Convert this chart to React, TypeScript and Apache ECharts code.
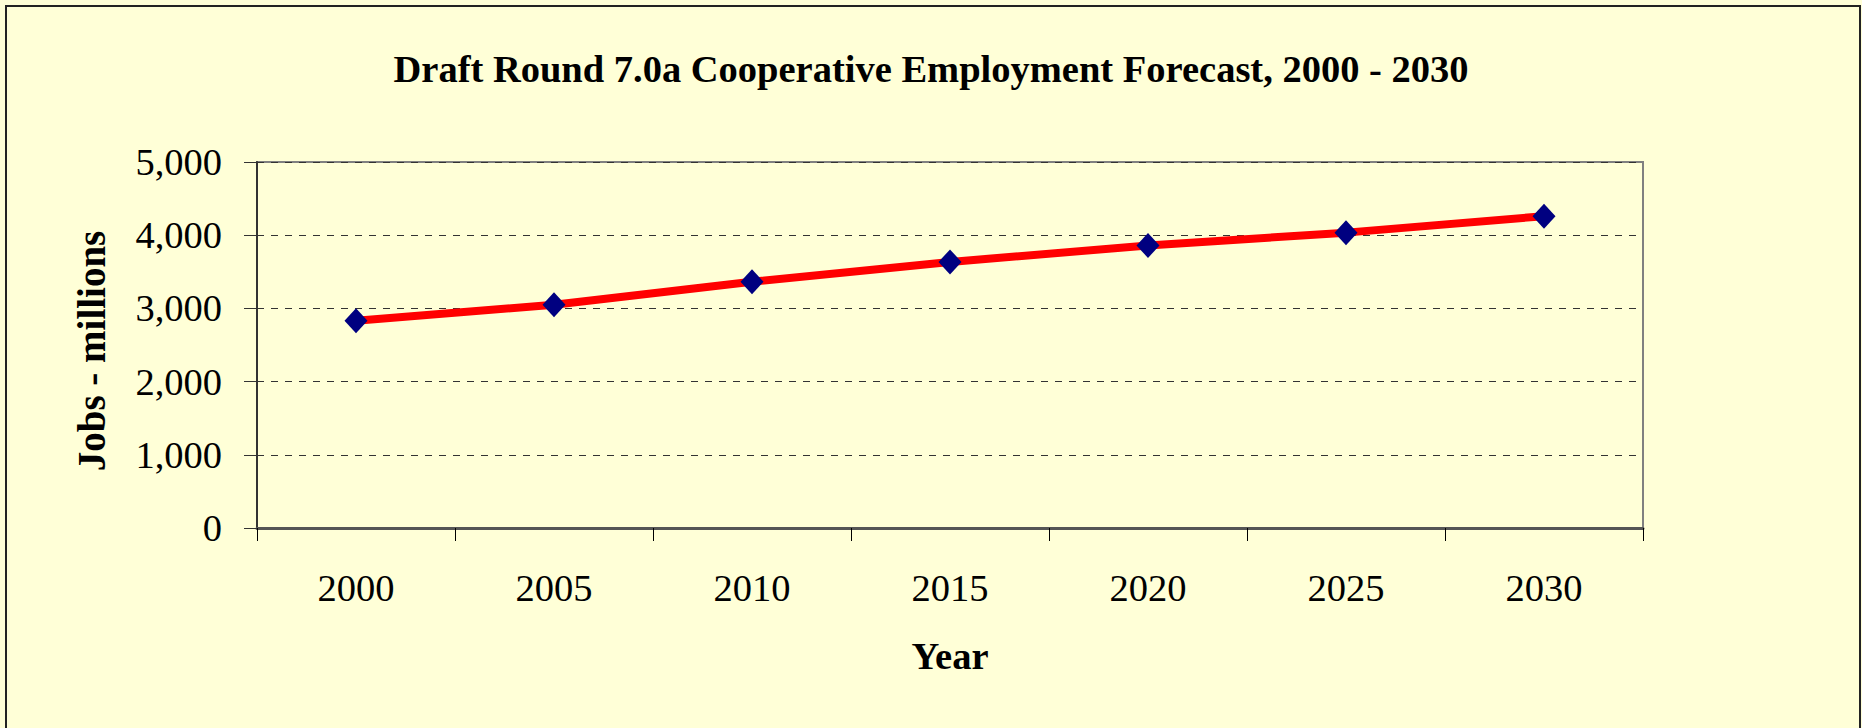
import React, { useEffect, useRef } from "react";
import * as echarts from "echarts";

const years = ["2000", "2005", "2010", "2015", "2020", "2025", "2030"];
const jobs = [2830, 3050, 3365, 3635, 3860, 4035, 4260];
const yTicks = [0, 1000, 2000, 3000, 4000, 5000];

const titleText = "Draft Round 7.0a Cooperative Employment Forecast, 2000 - 2030";
const yName = "Jobs - millions";
const xName = "Year";

const FONT = "'Liberation Serif', 'Times New Roman', serif";

export default function App() {
  const ref = useRef<HTMLDivElement>(null);
  useEffect(() => {
    if (!ref.current) return;
    const chart = echarts.init(ref.current, null, { renderer: "svg" });
    chart.setOption({
      animation: false,
      backgroundColor: "#FFFFD7",
      title: {
        text: titleText,
        left: "center",
        top: 44,
        textStyle: { fontFamily: FONT, fontSize: 38.5, fontWeight: "bold", color: "#000" },
      },
      graphic: [
        {
          type: "rect",
          shape: { x: 6, y: 6, width: 1854, height: 740 },
          style: { fill: "none", stroke: "#222", lineWidth: 2 },
          silent: true,
        },
      ],
      grid: { left: 257, right: 219, top: 162, bottom: 200, show: true, borderColor: "#808080", borderWidth: 2, backgroundColor: "transparent" },
      xAxis: {
        type: "category",
        data: years,
        boundaryGap: true,
        name: xName,
        nameLocation: "middle",
        nameGap: 108,
        nameTextStyle: { fontFamily: FONT, fontSize: 38.5, fontWeight: "bold", color: "#000" },
        axisLine: { lineStyle: { color: "#555", width: 3 } },
        axisTick: { show: true, length: 13, alignWithLabel: false, lineStyle: { color: "#000", width: 1 } },
        axisLabel: { fontFamily: FONT, fontSize: 38.5, color: "#000", margin: 40 },
        splitLine: { show: false },
      },
      yAxis: {
        type: "value",
        min: yTicks[0],
        max: yTicks[yTicks.length - 1],
        interval: 1000,
        name: yName,
        nameLocation: "middle",
        nameGap: 146,
        nameRotate: 90,
        nameTextStyle: { fontFamily: FONT, fontSize: 39, fontWeight: "bold", color: "#000", padding: [0, 12, 0, 0] },
        axisLine: { show: true, lineStyle: { color: "#333", width: 2 } },
        axisTick: { show: true, length: 13, lineStyle: { color: "#333", width: 1 } },
        axisLabel: {
          fontFamily: FONT,
          fontSize: 38.5,
          color: "#000",
          margin: 35,
          formatter: (v: number) => v.toLocaleString("en-US"),
        },
        splitLine: { show: true, lineStyle: { color: "#333", width: 1, type: [7, 7] } },
      },
      series: [
        {
          type: "line",
          data: jobs,
          symbol: "diamond",
          symbolSize: [23, 25],
          lineStyle: { color: "#FF0000", width: 8 },
          itemStyle: { color: "#000080" },
          z: 3,
        },
      ],
    });
    return () => chart.dispose();
  }, []);
  return (
    <div
      ref={ref}
      style={{ position: "fixed", left: 0, top: 0, width: 1862, height: 728 }}
    />
  );
}
